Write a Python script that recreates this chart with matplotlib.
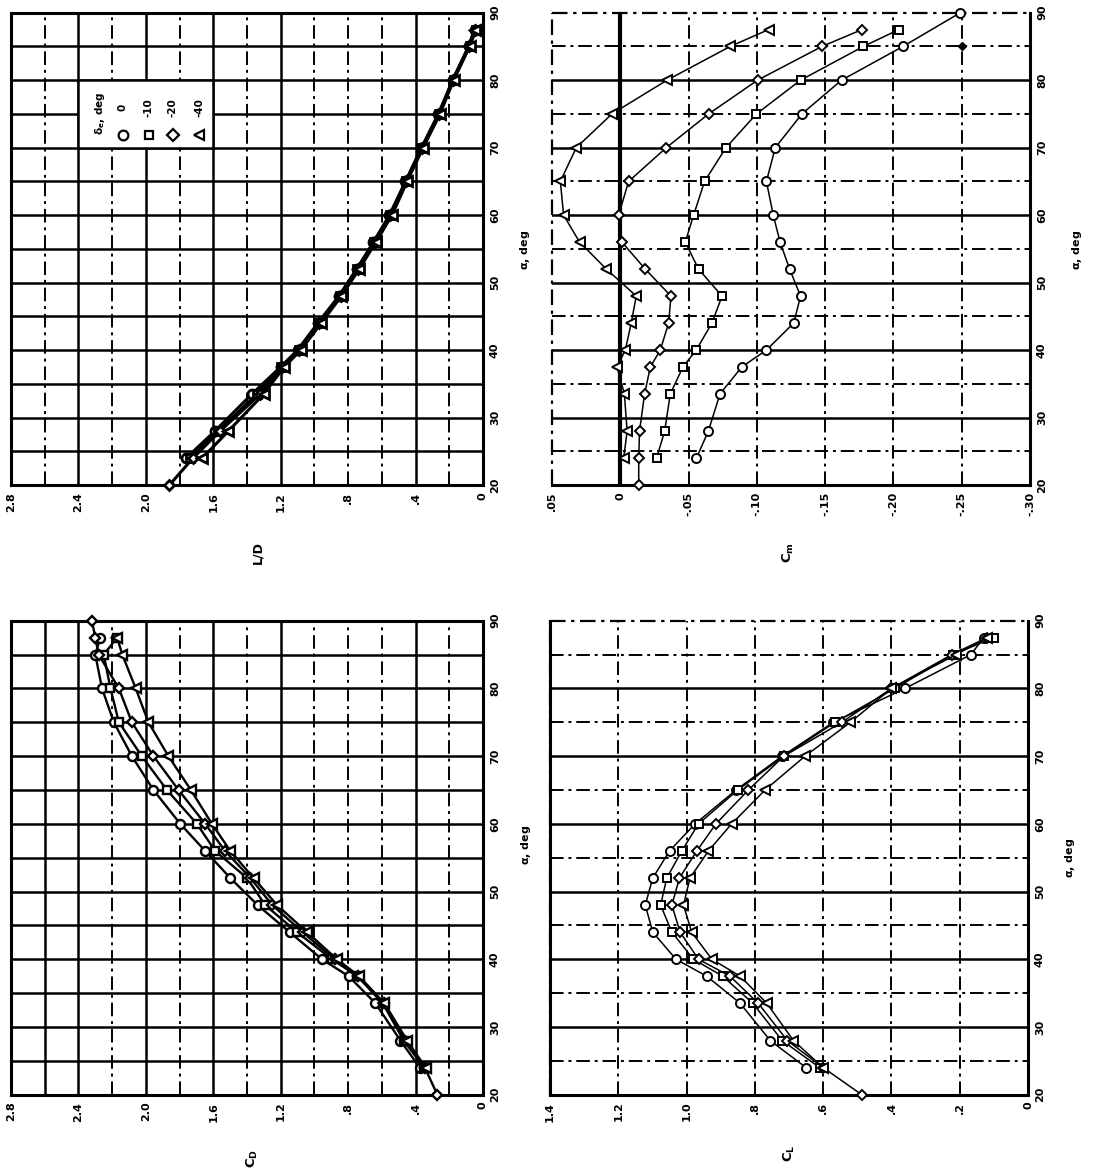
import matplotlib
matplotlib.use("Agg")
import matplotlib.pyplot as plt

W, H, DPI = 1093, 1171, 100

# Angle of attack, deg (common test points)
ALPHA = [24, 28, 33.5, 37.5, 40, 44, 48, 52, 56, 60, 65, 70, 75, 80, 85, 87.5]
ALPHA_M20 = [20] + ALPHA
ALPHA_CD_M20 = [20] + ALPHA + [90]
ALPHA_CM_0 = [24, 28, 33.5, 37.5, 40, 44, 48, 52, 56, 60, 65, 70, 75, 80, 85, 90]

# Elevon deflections, deg
DELTA_E = ["0", "-10", "-20", "-40"]

# Lift-drag ratio
LD_0 = [1.76, 1.59, 1.37, 1.20, 1.10, 0.98, 0.855, 0.75, 0.65, 0.555, 0.46, 0.365, 0.265, 0.18, 0.085, 0.05]
LD_M10 = [1.74, 1.57, 1.34, 1.20, 1.09, 0.97, 0.85, 0.745, 0.645, 0.55, 0.455, 0.36, 0.26, 0.175, 0.08, 0.04]
LD_M20 = [1.86, 1.72, 1.56, 1.32, 1.19, 1.09, 0.97, 0.845, 0.74, 0.64, 0.55, 0.455, 0.36, 0.26, 0.18, 0.085, 0.05]
LD_M40 = [1.665, 1.51, 1.30, 1.18, 1.08, 0.96, 0.84, 0.735, 0.635, 0.54, 0.45, 0.355, 0.255, 0.175, 0.08, 0.05]

# Drag coefficient
CD_0 = [0.375, 0.49, 0.638, 0.797, 0.955, 1.147, 1.337, 1.499, 1.648, 1.796, 1.955, 2.083, 2.19, 2.26, 2.30, 2.27]
CD_M10 = [0.35, 0.47, 0.595, 0.745, 0.896, 1.103, 1.292, 1.40, 1.589, 1.697, 1.875, 2.024, 2.16, 2.21, 2.25, 2.17]
CD_M20 = [0.271, 0.345, 0.46, 0.59, 0.74, 0.88, 1.07, 1.25, 1.38, 1.53, 1.648, 1.806, 1.955, 2.083, 2.16, 2.28, 2.30, 2.32]
CD_M40 = [0.34, 0.45, 0.585, 0.735, 0.866, 1.044, 1.222, 1.361, 1.499, 1.608, 1.733, 1.866, 1.985, 2.06, 2.14, 2.17]

# Lift coefficient
CL_0 = [0.65, 0.755, 0.843, 0.941, 1.031, 1.099, 1.121, 1.099, 1.050, 0.975, 0.855, 0.72, 0.57, 0.36, 0.167, 0.13]
CL_M10 = [0.61, 0.72, 0.806, 0.894, 0.980, 1.043, 1.076, 1.058, 1.014, 0.965, 0.850, 0.715, 0.565, 0.39, 0.22, 0.10]
CL_M20 = [0.487, 0.60, 0.705, 0.790, 0.873, 0.965, 1.019, 1.043, 1.021, 0.970, 0.914, 0.819, 0.715, 0.545, 0.40, 0.223, 0.12]
CL_M40 = [0.60, 0.687, 0.765, 0.843, 0.926, 0.985, 1.009, 0.990, 0.936, 0.868, 0.77, 0.653, 0.52, 0.40, 0.21, 0.12]

# Pitching-moment coefficient
CM_0 = [-0.0558, -0.0645, -0.073, -0.089, -0.107, -0.127, -0.132, -0.124, -0.117, -0.112, -0.107, -0.1135, -0.133, -0.162, -0.207, -0.249]
CM_M10 = [-0.0266, -0.0325, -0.0366, -0.0459, -0.0556, -0.0671, -0.0745, -0.0573, -0.0476, -0.0537, -0.0617, -0.0774, -0.0997, -0.132, -0.178, -0.204]
CM_M20 = [-0.0135, -0.0135, -0.0141, -0.0178, -0.022, -0.0293, -0.0354, -0.0371, -0.0183, -0.0012, 0.0012, -0.0061, -0.0337, -0.0647, -0.1005, -0.1477, -0.177]
CM_M40 = [-0.0025, -0.005, -0.003, 0.0024, -0.0037, -0.008, -0.0117, 0.0102, 0.0298, 0.0415, 0.0439, 0.0322, 0.0061, -0.0342, -0.0805, -0.1086]
CM_FLAG_ALPHA = [85]
CM_FLAG = [-0.25]

# Tick labels
ALPHA_TICKS = [20, 30, 40, 50, 60, 70, 80, 90]
CDLD_TICKS = [2.8, 2.4, 2.0, 1.6, 1.2, 0.8, 0.4, 0.0]
CDLD_LABELS = ["2.8", "2.4", "2.0", "1.6", "1.2", ".8", ".4", "0"]
CL_TICKS = [1.4, 1.2, 1.0, 0.8, 0.6, 0.4, 0.2, 0.0]
CL_LABELS = ["1.4", "1.2", "1.0", ".8", ".6", ".4", ".2", "0"]
CM_TICKS = [0.05, 0.0, -0.05, -0.10, -0.15, -0.20, -0.25, -0.30]
CM_LABELS = [".05", "0", "-.05", "-.10", "-.15", "-.20", "-.25", "-.30"]

MARKERS = [("o", 6.5), ("s", 5.6), ("D", 5.2), ("<", 6.5)]
DASHDOT = (0, (7, 2.5, 1.5, 2.5))
FONT = dict(family="DejaVu Sans", weight="bold")

fig = plt.figure(figsize=(W / DPI, H / DPI), dpi=DPI)
fig.patch.set_facecolor("white")


def px_axes(left, top, right, bottom):
    return fig.add_axes([left / W, 1 - bottom / H, (right - left) / W, (bottom - top) / H])


def fig_text(x, y, s, size=8.5):
    fig.text(x / W, 1 - y / H, s, rotation=90, ha="center", va="center", fontsize=size, **FONT)


def setup(ax, xlim, xticks, xlabels, solid_x, dash_x, solid_y, dash_y, boxed):
    ax.set_xlim(*xlim)
    ax.set_ylim(20, 90)
    ax.set_xticks(xticks)
    ax.set_xticklabels(xlabels, rotation=90, fontsize=8, **FONT)
    ax.yaxis.tick_right()
    ax.set_yticks(ALPHA_TICKS)
    ax.set_yticklabels([str(a) for a in ALPHA_TICKS], rotation=90, va="center", fontsize=8, **FONT)
    ax.tick_params(axis="both", length=0)
    ax.tick_params(axis="x", pad=5)
    ax.tick_params(axis="y", pad=5)
    for v in solid_x:
        ax.axvline(v, color="black", lw=1.8, zorder=1)
    for v in dash_x:
        ax.axvline(v, color="black", lw=1.4, ls=DASHDOT, zorder=1)
    for a in solid_y:
        ax.axhline(a, color="black", lw=1.8, zorder=1)
    for a in dash_y:
        ax.axhline(a, color="black", lw=1.4, ls=DASHDOT, zorder=1)
    for side in ("bottom", "right"):
        ax.spines[side].set_linewidth(2.2)
    if boxed:
        for side in ("top", "left"):
            ax.spines[side].set_linewidth(2.2)
    else:
        for side in ("top", "left"):
            ax.spines[side].set_visible(False)
        ax.axhline(90, color="black", lw=1.6, ls=DASHDOT, zorder=1, clip_on=False)
        ax.axvline(xlim[0], color="black", lw=1.6, ls=DASHDOT, zorder=1, clip_on=False)


def plot_series(ax, series, lw=1.1, mew=1.4):
    for (alpha, vals), (mk, ms) in zip(series, MARKERS):
        ax.plot(vals, alpha, color="black", lw=lw, marker=mk, ms=ms,
                mfc="white", mec="black", mew=mew, zorder=3, clip_on=False)


five_deg = [25, 30, 35, 40, 45, 50, 55, 60, 65, 70, 75, 80, 85]
ten_deg = [30, 40, 50, 60, 70, 80]
odd_five = [25, 35, 45, 55, 65, 75, 85]

# ---- L/D ----
ax_ld = px_axes(11, 12.7, 483, 485)
setup(ax_ld, (2.8, 0.0), CDLD_TICKS, CDLD_LABELS,
      solid_x=[2.4, 2.0, 1.6, 1.2, 0.4], dash_x=[2.6, 2.2, 1.8, 1.4, 1.0, 0.8, 0.6, 0.2],
      solid_y=five_deg, dash_y=[], boxed=True)
plot_series(ax_ld, [(ALPHA, LD_0), (ALPHA, LD_M10), (ALPHA_M20, LD_M20), (ALPHA, LD_M40)],
            lw=2.2, mew=2.0)

# legend block
leg_x = [2.138, 1.983, 1.839, 1.684]
ax_ld.fill_between([1.6, 2.4], 70, 80, color="white", zorder=2)
for v in (2.4, 1.6):
    ax_ld.plot([v, v], [70, 80], color="black", lw=1.8, zorder=2.5)
for a in (70, 80):
    ax_ld.plot([2.4, 1.6], [a, a], color="black", lw=1.8, zorder=2.5)
ax_ld.text(2.273, 75.0, r"$\mathregular{\delta_e}$, deg", rotation=90, ha="center", va="center",
           fontsize=7.5, zorder=4, **FONT)
for x, lab, (mk, ms) in zip(leg_x, DELTA_E, MARKERS):
    ax_ld.plot([x], [71.9], marker=mk, ms=ms + 0.5, mfc="white", mec="black", mew=1.6, zorder=4)
    ax_ld.text(x, 76.0, lab, rotation=90, ha="center", va="center", fontsize=7.5, zorder=4, **FONT)

# ---- C_m ----
ax_cm = px_axes(552, 12.7, 1030, 485)
setup(ax_cm, (0.05, -0.30), CM_TICKS, CM_LABELS,
      solid_x=[], dash_x=[-0.05, -0.10, -0.15, -0.20, -0.25],
      solid_y=ten_deg, dash_y=odd_five, boxed=False)
ax_cm.axvline(0.0, color="black", lw=3.0, zorder=2)
plot_series(ax_cm, [(ALPHA_CM_0, CM_0), (ALPHA, CM_M10), (ALPHA_M20, CM_M20), (ALPHA, CM_M40)])
ax_cm.plot(CM_FLAG, CM_FLAG_ALPHA, ls="none", marker="D", ms=4, color="black", zorder=3)

# ---- C_D ----
ax_cd = px_axes(11, 620.7, 483, 1094.7)
setup(ax_cd, (2.8, 0.0), CDLD_TICKS, CDLD_LABELS,
      solid_x=[2.6, 2.4, 2.0, 1.6, 1.2, 0.4], dash_x=[2.2, 1.8, 1.4, 1.0, 0.8, 0.6, 0.2],
      solid_y=five_deg, dash_y=[], boxed=True)
plot_series(ax_cd, [(ALPHA, CD_0), (ALPHA, CD_M10), (ALPHA_CD_M20, CD_M20), (ALPHA, CD_M40)],
            lw=1.7, mew=1.7)

# ---- C_L ----
ax_cl = px_axes(550, 620.7, 1028, 1094.7)
setup(ax_cl, (1.4, 0.0), CL_TICKS, CL_LABELS,
      solid_x=[], dash_x=[1.2, 1.0, 0.8, 0.6, 0.4, 0.2],
      solid_y=ten_deg, dash_y=odd_five, boxed=False)
ax_cl.axvline(1.4, color="black", lw=2.2, zorder=1, clip_on=False)
plot_series(ax_cl, [(ALPHA, CL_0), (ALPHA, CL_M10), (ALPHA_M20, CL_M20), (ALPHA, CL_M40)])

# axis titles
fig_text(258, 553, "L/D", size=9)
fig_text(788, 553, r"$\mathregular{C_m}$", size=9.5)
fig_text(252, 1158, r"$\mathregular{C_D}$", size=9.5)
fig_text(789, 1153, r"$\mathregular{C_L}$", size=9.5)
fig_text(525, 250, r"$\mathregular{\alpha}$, deg", size=8)
fig_text(1077, 250, r"$\mathregular{\alpha}$, deg", size=8)
fig_text(526, 845, r"$\mathregular{\alpha}$, deg", size=8)
fig_text(1070, 858, r"$\mathregular{\alpha}$, deg", size=8)

fig.savefig("out.png", dpi=DPI, facecolor="white")
